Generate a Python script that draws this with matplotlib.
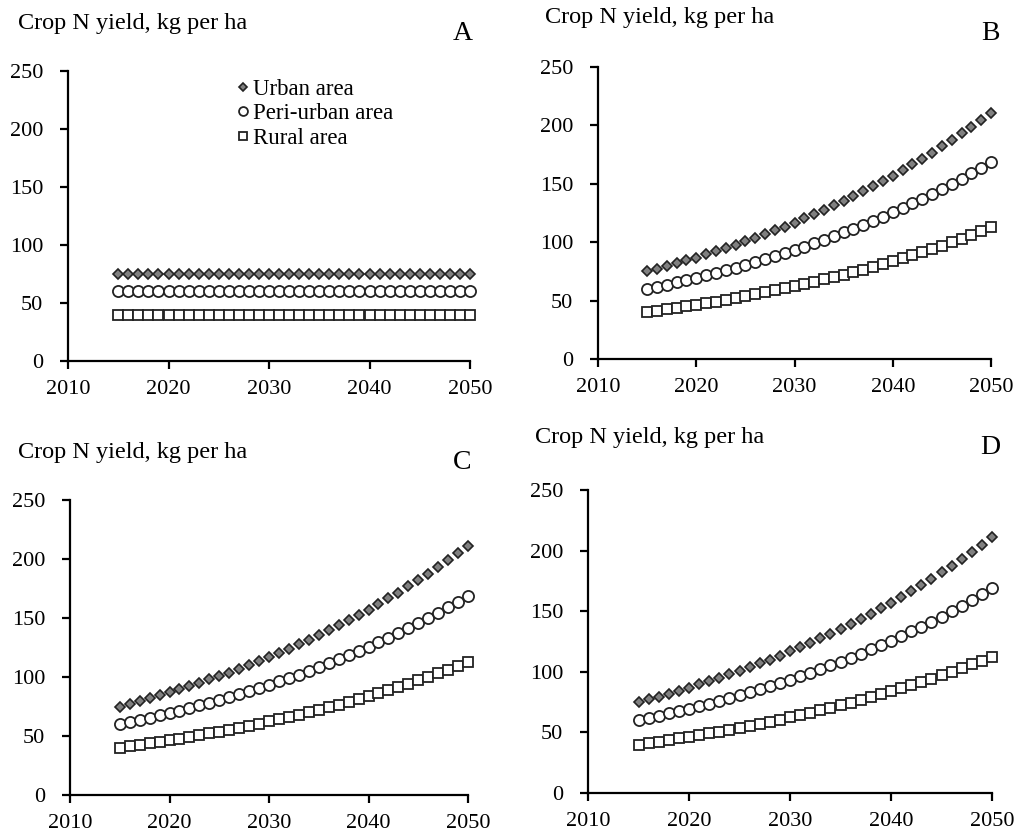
import matplotlib
matplotlib.use("Agg")
import matplotlib.pyplot as plt

plt.rcParams['font.family'] = ['Liberation Serif', 'DejaVu Serif']

W, H = 1019, 836

years = list(range(2015, 2051))

# scenario A: constant yields
urban_a = [75] * 36
peri_a = [60] * 36
rural_a = [40] * 36

# scenarios B, C, D: rising yields
urban_g = [75.0, 77.3, 79.6, 82.0, 84.4, 86.9, 89.6, 92.2, 95.0, 97.9, 100.8, 103.8,
           106.9, 110.1, 113.4, 116.8, 120.4, 124.0, 127.7, 131.5, 135.5, 139.5, 143.7,
           148.0, 152.5, 157.0, 161.7, 166.6, 171.6, 176.7, 182.0, 187.5, 193.1, 198.9,
           204.9, 211.0]
peri_g = [60.0, 61.8, 63.7, 65.6, 67.5, 69.6, 71.6, 73.8, 76.0, 78.3, 80.6, 83.1, 85.5,
          88.1, 90.8, 93.5, 96.3, 99.2, 102.1, 105.2, 108.4, 111.6, 115.0, 118.4, 122.0,
          125.6, 129.4, 133.3, 137.3, 141.4, 145.6, 150.0, 154.5, 159.1, 163.9, 168.8]
rural_g = [40.0, 41.2, 42.4, 43.7, 45.0, 46.4, 47.8, 49.2, 50.7, 52.2, 53.8, 55.4, 57.0,
           58.7, 60.5, 62.3, 64.2, 66.1, 68.1, 70.1, 72.2, 74.4, 76.6, 78.9, 81.3, 83.8,
           86.3, 88.9, 91.5, 94.3, 97.1, 100.0, 103.0, 106.1, 109.3, 112.6]

series_names = ['Urban area', 'Peri-urban area', 'Rural area']
panel_labels = ['A', 'B', 'C', 'D']
title = 'Crop N yield, kg per ha'

# pixel boxes: left, right, top, bottom
boxes = [(68, 470, 71, 361), (598, 991, 67, 359), (70, 468, 500, 795), (588, 992, 490, 793)]
titles_xy = [(18, 23), (545, 18), (18, 452), (535, 438)]
labels_xy = [(463, 33), (990, 33), (462, 462), (990, 447)]

fig = plt.figure(figsize=(W / 100, H / 100), dpi=100)


def add_panel(box):
    l, r, t, b = box
    return fig.add_axes([l / W, 1 - b / H, (r - l) / W, (b - t) / H])


data = [(urban_a, peri_a, rural_a), (urban_g, peri_g, rural_g),
        (urban_g, peri_g, rural_g), (urban_g, peri_g, rural_g)]

for i in range(4):
    ax = add_panel(boxes[i])
    u, p, r = data[i]
    ax.plot(years, u, linestyle='none', marker='D', ms=5.5, mfc='#808080', mec='#222222',
            mew=1.2, label=series_names[0], clip_on=False)
    ax.plot(years, p, linestyle='none', marker='o', ms=8, mfc='white', mec='#222222',
            mew=1.3, label=series_names[1], clip_on=False)
    ax.plot(years, r, linestyle='none', marker='s', ms=7.5, mfc='white', mec='#222222',
            mew=1.3, label=series_names[2], clip_on=False)
    ax.set_xlim(2010, 2050)
    ax.set_ylim(0, 250)
    ax.set_xticks([2010, 2020, 2030, 2040, 2050])
    ax.set_yticks([0, 50, 100, 150, 200, 250])
    for s in ['top', 'right']:
        ax.spines[s].set_visible(False)
    for s in ['left', 'bottom']:
        ax.spines[s].set_linewidth(1.6)
    ax.tick_params(direction='out', length=6, width=1.6, labelsize=16)
    ax.tick_params(axis='x', pad=8)
    ax.tick_params(axis='y', pad=12)
    for lbl in ax.get_xticklabels() + ax.get_yticklabels():
        lbl.set_fontfamily('Liberation Serif')
    fig.text(titles_xy[i][0] / W, 1 - titles_xy[i][1] / H, title, fontsize=17.5,
             ha='left', va='center')
    fig.text(labels_xy[i][0] / W, 1 - labels_xy[i][1] / H, panel_labels[i], fontsize=20,
             ha='center', va='center')
    if i == 0:
        ax.legend(loc='upper left', bbox_to_anchor=(0.39, 1.005), frameon=False,
                  fontsize=16.5, handletextpad=0.05, handlelength=0.8, labelspacing=0.15,
                  borderaxespad=0, markerscale=0.8)

fig.savefig('out.png', dpi=100)
